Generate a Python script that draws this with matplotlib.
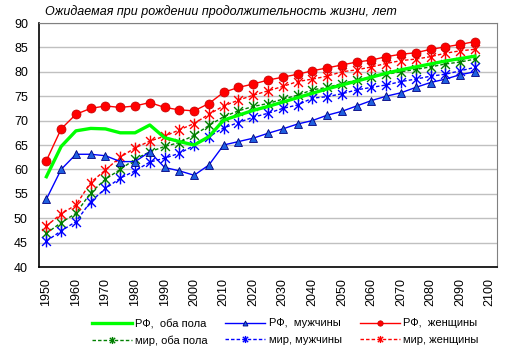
import numpy as np
import matplotlib.pyplot as plt
from matplotlib.path import Path

plt.rcParams['font.family'] = ['Liberation Sans', 'DejaVu Sans']

# годы: 1950..2100 шаг 5 (данные до 2095)
years = list(range(1950, 2101, 5))
data_years = list(range(1950, 2096, 5))

rf_both = [58.5, 64.7, 67.9, 68.4, 68.3, 67.5, 67.5, 69.1, 66.5, 65.7,
           65.0, 66.7, 70.1, 71.1, 72.1, 72.9, 73.8, 74.7, 75.6, 76.5,
           77.3, 78.1, 78.9, 79.7, 80.4, 81.0, 81.6, 82.2, 82.7, 83.2]
rf_men = [53.9, 60.0, 63.1, 63.1, 62.8, 61.6, 61.6, 63.6, 60.4, 59.7,
          58.8, 60.9, 65.0, 65.7, 66.4, 67.4, 68.3, 69.3, 70.0, 71.1,
          71.9, 73.0, 74.1, 75.0, 75.7, 76.8, 77.8, 78.5, 79.4, 80.0]
rf_women = [61.8, 68.3, 71.3, 72.5, 73.0, 72.7, 73.0, 73.7, 72.7, 72.2,
            72.0, 73.5, 75.8, 76.8, 77.5, 78.3, 78.9, 79.5, 80.2, 80.8,
            81.4, 82.0, 82.4, 83.1, 83.6, 83.9, 84.6, 85.1, 85.6, 86.2]
w_both = [46.9, 49.1, 51.0, 55.2, 58.0, 60.0, 62.1, 63.6, 64.7, 65.5,
          67.0, 69.0, 70.8, 72.0, 72.9, 73.5, 74.4, 75.2, 76.3, 76.8,
          77.6, 78.3, 78.9, 79.5, 80.0, 80.5, 81.0, 81.6, 82.0, 82.6]
w_men = [45.3, 47.4, 49.3, 53.4, 56.1, 58.2, 59.7, 61.5, 62.3, 63.3,
         64.9, 66.7, 68.5, 69.6, 70.7, 71.5, 72.5, 73.2, 74.6, 74.9,
         75.5, 76.3, 76.8, 77.3, 78.0, 78.5, 79.1, 79.5, 80.2, 80.9]
w_women = [48.4, 50.9, 52.7, 57.3, 59.9, 62.5, 64.4, 65.8, 66.8, 68.1,
           69.4, 71.3, 73.0, 74.2, 75.2, 76.1, 77.0, 78.0, 78.5, 79.1,
           80.0, 80.4, 81.0, 81.7, 82.3, 82.6, 83.1, 83.8, 84.3, 84.6]

fig = plt.figure(figsize=(5.11, 3.56), dpi=100)
ax = fig.add_axes([39/511, 1-267/356, (497-39)/511, (267-23)/356])

x = np.arange(len(data_years))
# звёздочка как в Excel: крест + вертикаль
star = Path([(0, -1), (0, 1), (-0.75, -0.75), (0.75, 0.75), (-0.75, 0.75), (0.75, -0.75)],
            [Path.MOVETO, Path.LINETO, Path.MOVETO, Path.LINETO, Path.MOVETO, Path.LINETO])
dash = (2.5, 1.5)

l1, = ax.plot(x, rf_both, color='#00ff00', lw=2.4, label='РФ,  оба пола', zorder=5)
l2, = ax.plot(x, rf_men, color='#0000ff', lw=1, marker='^', ms=6,
              mfc='#1f5fe0', mec='#000080', mew=0.6, label='РФ,  мужчины', zorder=4)
l3, = ax.plot(x, rf_women, color='#ff0000', lw=1, marker='o', ms=6.5,
              mfc='#ff0000', mec='#c00000', mew=0.5, label='РФ,  женщины', zorder=4)
l4, = ax.plot(x, w_both, color='#008000', lw=1, ls=(0, dash), marker=star, ms=8.5,
              mew=1, label='мир, оба пола', zorder=3)
l5, = ax.plot(x, w_men, color='#0000ff', lw=1, ls=(0, dash), marker=star, ms=8.5,
              mew=1, label='мир, мужчины', zorder=3)
l6, = ax.plot(x, w_women, color='#ff0000', lw=1, ls=(0, dash), marker=star, ms=8.5,
              mew=1, label='мир, женщины', zorder=3)

ax.set_xlim(-0.5, len(years) - 0.5)
ax.set_ylim(40, 90)
ax.set_yticks(range(40, 91, 5))
ax.set_xticks(range(0, len(years), 2))
ax.set_xticklabels([str(y) for y in years[::2]], rotation=90)
ax.tick_params(axis='both', length=0, labelsize=9)
ax.tick_params(axis='x', pad=8)
ax.tick_params(axis='y', pad=8)
ax.yaxis.grid(True, color='#c0c0c0', lw=1)
ax.set_axisbelow(True)
for s in ['top', 'right']:
    ax.spines[s].set_color('#808080')
for s in ['left', 'bottom']:
    ax.spines[s].set_color('black')
    ax.spines[s].set_linewidth(1.2)

fig.text(45/511, 1-12/356, 'Ожидаемая при рождении продолжительность жизни, лет',
         style='italic', fontsize=9, va='center', ha='left')

handles = [l1, l4, l2, l5, l3, l6]
leg = fig.legend(handles=handles, labels=[h.get_label() for h in handles],
                 ncol=3, frameon=False, loc='center', bbox_to_anchor=(285/511, 1-332/356),
                 fontsize=8, handlelength=3.6, columnspacing=1.6, labelspacing=0.6,
                 handletextpad=0.3, markerscale=0.6)

fig.savefig('out.png', dpi=100)
